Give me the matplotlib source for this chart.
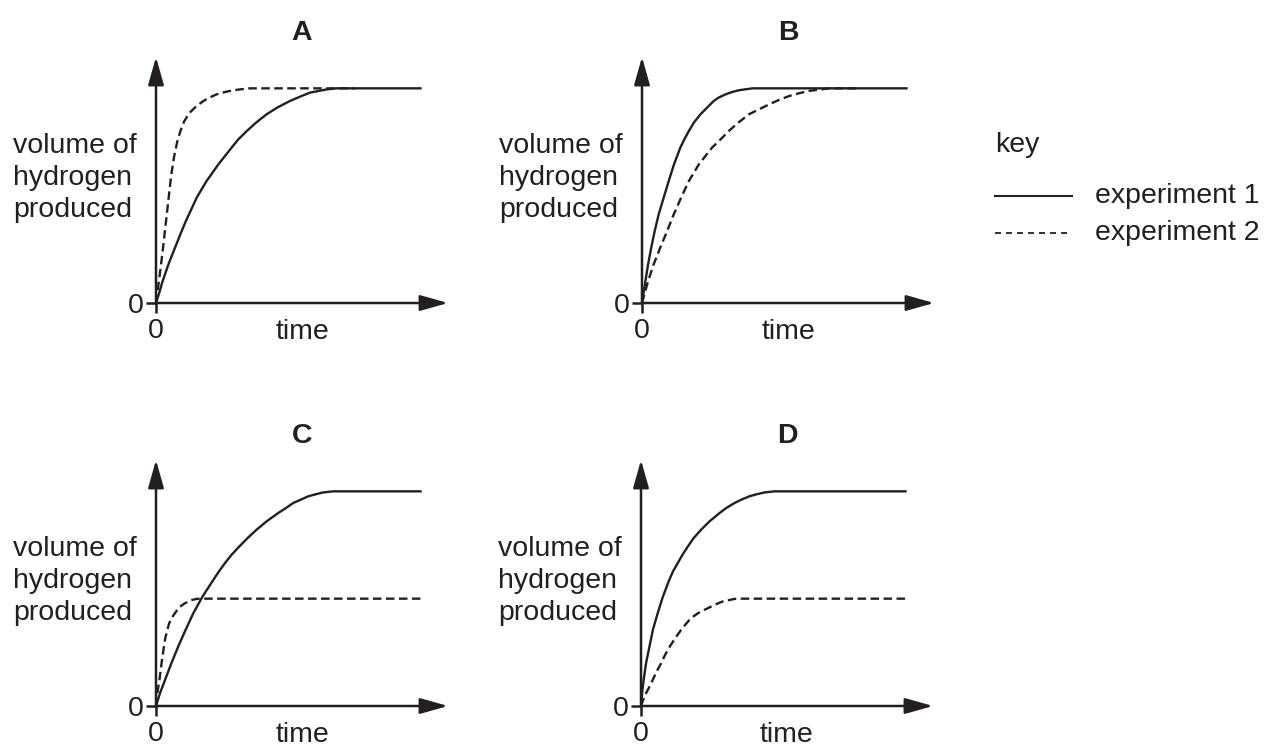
import matplotlib
matplotlib.use("Agg")
import matplotlib.pyplot as plt
from matplotlib.lines import Line2D

plt.rcParams['font.family'] = ['Liberation Sans', 'DejaVu Sans']

# curves (time, volume), plateau of experiment 1 = 10
A_exp1_x = [0, 0.11, 0.25, 0.47, 0.72, 0.97, 1.13, 1.54, 1.91, 2.36, 2.86, 3.11, 3.43, 3.78,
            4.18, 4.58, 5.06, 5.50, 5.82, 6.45, 6.83, 10]
A_exp1_y = [0, 0.42, 1.02, 1.80, 2.58, 3.35, 3.82, 4.91, 5.68, 6.46, 7.24, 7.62, 8.01, 8.40,
            8.79, 9.10, 9.41, 9.64, 9.80, 9.95, 10, 10]
A_exp2_x = [0, 0.13, 0.25, 0.36, 0.47, 0.57, 0.68, 0.80, 0.92, 1.06, 1.26, 1.51, 1.79, 2.02,
            2.29, 2.61, 2.92, 3.24, 3.55, 7.52]
A_exp2_y = [0, 1.2, 2.4, 3.6, 4.8, 5.9, 6.8, 7.5, 8.0, 8.45, 8.85, 9.15, 9.41, 9.57,
            9.72, 9.83, 9.91, 9.96, 10, 10]

B_exp1_x = [0, 0.05, 0.13, 0.23, 0.35, 0.48, 0.63, 0.82, 1.01, 1.21, 1.45, 1.60, 1.77, 1.96,
            2.21, 2.46, 2.71, 2.90, 3.16, 3.41, 3.66, 4.17, 10]
B_exp1_y = [0, 0.40, 1.02, 1.80, 2.58, 3.35, 4.13, 4.91, 5.68, 6.46, 7.24, 7.62, 8.01, 8.40,
            8.79, 9.10, 9.41, 9.57, 9.72, 9.83, 9.91, 10, 10]
B_exp2_x = [0, 0.09, 0.23, 0.44, 0.69, 0.95, 1.20, 1.48, 1.77, 1.96, 2.15, 2.40, 2.65, 2.97,
            3.28, 3.64, 4.04, 4.42, 4.80, 5.18, 5.56, 5.93, 6.31, 6.69, 7.07, 8.08]
B_exp2_y = [0, 0.40, 1.02, 1.80, 2.58, 3.35, 4.13, 4.91, 5.68, 6.07, 6.46, 6.85, 7.24, 7.62,
            8.01, 8.40, 8.79, 9.02, 9.25, 9.46, 9.64, 9.77, 9.88, 9.94, 10, 10]

C_exp1_x = [0, 0.15, 0.34, 0.58, 0.84, 1.12, 1.41, 1.76, 2.17, 2.38, 2.61, 2.86, 3.15, 3.46,
            3.80, 4.18, 4.62, 4.91, 5.19, 5.47, 5.76, 6.03, 6.32, 6.70, 10]
C_exp1_y = [0, 0.59, 1.21, 1.99, 2.77, 3.55, 4.32, 5.10, 5.88, 6.27, 6.66, 7.05, 7.43, 7.82,
            8.21, 8.60, 8.99, 9.22, 9.46, 9.61, 9.77, 9.86, 9.95, 10, 10]
C_exp2_x = [0, 0.05, 0.13, 0.21, 0.30, 0.35, 0.43, 0.50, 0.63, 0.76, 0.91, 1.06, 1.22, 1.39,
            1.54, 1.79, 10]
C_exp2_y = [0, 0.59, 1.21, 1.99, 2.77, 3.16, 3.55, 3.86, 4.17, 4.40, 4.63, 4.76, 4.87, 4.95,
            4.99, 5.0, 5.0]

D_exp1_x = [0, 0.04, 0.10, 0.19, 0.32, 0.45, 0.63, 0.83, 1.07, 1.21, 1.39, 1.57, 1.77, 1.99,
            2.27, 2.59, 2.97, 3.22, 3.54, 3.79, 4.10, 4.36, 4.67, 5.05, 10]
D_exp1_y = [0, 0.59, 1.21, 1.99, 2.77, 3.55, 4.32, 5.10, 5.88, 6.27, 6.66, 7.05, 7.43, 7.82,
            8.21, 8.60, 8.99, 9.22, 9.46, 9.61, 9.77, 9.86, 9.95, 10, 10]
D_exp2_x = [0, 0.08, 0.19, 0.32, 0.44, 0.59, 0.76, 0.91, 1.09, 1.29, 1.52, 1.67, 1.83, 1.98,
            2.15, 2.40, 2.65, 2.87, 3.09, 3.31, 3.54, 3.79, 10]
D_exp2_y = [0, 0.28, 0.59, 0.90, 1.21, 1.60, 1.99, 2.38, 2.77, 3.16, 3.55, 3.78, 4.01, 4.17,
            4.32, 4.48, 4.63, 4.76, 4.87, 4.93, 4.99, 5.0, 5.0]

panels = {
    "A": (A_exp1_x, A_exp1_y, A_exp2_x, A_exp2_y),
    "B": (B_exp1_x, B_exp1_y, B_exp2_x, B_exp2_y),
    "C": (C_exp1_x, C_exp1_y, C_exp2_x, C_exp2_y),
    "D": (D_exp1_x, D_exp1_y, D_exp2_x, D_exp2_y),
}
ylabel_text = "volume of\nhydrogen\nproduced"
xlabel_text = "time"
key_title = "key"
key_labels = ["experiment 1", "experiment 2"]

W, H = 1265, 746
INK = '#231f20'
# origin of each panel in pixels
origins = {"A": (156, 303), "B": (642, 303), "C": (156, 706), "D": (641, 706)}
ax_w, ax_h = 292, 246          # pixels to arrow tips
xmax, ymax = 11.04, 11.46      # data units at arrow tips
FS = 20.5
dash = (0, (3.6, 1.9))

fig = plt.figure(figsize=(W / 100, H / 100), dpi=100)

for name, (x1, y1, x2, y2) in panels.items():
    ox, oy = origins[name]
    ax = fig.add_axes([ox / W, 1 - oy / H, ax_w / W, ax_h / H])
    ax.set_xlim(0, xmax)
    ax.set_ylim(0, ymax)
    for s in ax.spines.values():
        s.set_visible(False)
    ax.set_xticks([0])
    ax.set_yticks([0])
    ax.tick_params(length=7, width=1.8, labelsize=FS, pad=2, color=INK, labelcolor=INK)
    ax.tick_params(axis='x', pad=4)
    ax.plot(x1, y1, color=INK, lw=1.7, solid_joinstyle='round')
    ax.plot(x2, y2, color=INK, lw=1.7, linestyle=dash)
    arrow = dict(arrowstyle='-|>,head_length=0.85,head_width=0.24', lw=1.8,
                 color=INK, mutation_scale=20, shrinkA=0, shrinkB=0)
    ax.annotate('', xy=(xmax, 0), xytext=(0, 0), arrowprops=arrow, annotation_clip=False)
    ax.annotate('', xy=(0, ymax), xytext=(0, 0), arrowprops=arrow, annotation_clip=False)
    ax.set_title(name, fontsize=FS, fontweight='bold', pad=12, color=INK)
    ax.text(0.5, -29 / ax_h, xlabel_text, transform=ax.transAxes, fontsize=FS,
            ha='center', va='center', color=INK)
    ax.text(-19 / ax_w, 125 / ax_h, ylabel_text, transform=ax.transAxes, color=INK,
            fontsize=FS, ha='right', va='center', multialignment='left', linespacing=1.3)

# key
fig.text(995 / W, 1 - 145 / H, key_title, fontsize=FS, ha='left', va='center', color=INK)
fig.add_artist(Line2D([995 / W, 1072 / W], [1 - 196 / H, 1 - 196 / H],
                      color=INK, lw=1.5, transform=fig.transFigure))
fig.add_artist(Line2D([995 / W, 1072 / W], [1 - 233 / H, 1 - 233 / H],
                      color=INK, lw=1.3, linestyle=(0, (3.3, 2.8)),
                      transform=fig.transFigure))
fig.text(1095 / W, 1 - 196 / H, key_labels[0], fontsize=FS, ha='left', va='center', color=INK)
fig.text(1095 / W, 1 - 233 / H, key_labels[1], fontsize=FS, ha='left', va='center', color=INK)

fig.savefig("out.png", dpi=100)
